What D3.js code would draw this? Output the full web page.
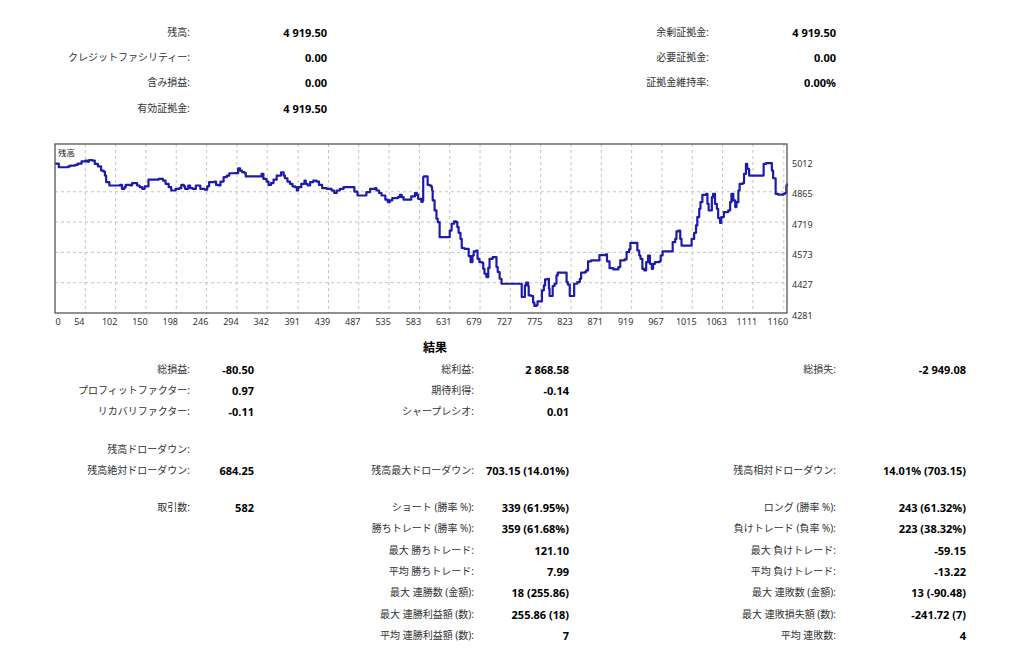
<!DOCTYPE html>
<html><head><meta charset="utf-8">
<script src="https://cdn.jsdelivr.net/npm/d3@7"></script>
<style>
html,body{margin:0;padding:0;background:#fff;}
svg text{font-family:"Noto Sans","Noto Sans CJK JP",sans-serif;}
</style></head><body>
<svg id="c" width="1024" height="657"></svg>
<script>
// ---- data ----
const dealIndex = [6,12,22,27,30,38,42,48,54,57,60,65,69,74,79,83,85,87,92,107,109,112,116,118,125,128,132,136,140,144,148,154,170,177,181,186,190,197,203,206,210,212,217,220,224,229,234,236,243,247,250,259,261,265,268,273,278,282,290,296,299,302,306,308,328,333,336,341,344,348,352,357,364,368,370,374,378,382,386,389,391,396,401,403,406,410,415,420,424,429,436,444,448,452,457,463,476,480,485,497,499,505,513,515,519,523,529,533,536,540,549,552,555,558,565,570,576,579,581,586,588,589,590,594,596,599,602,603,604,607,610,612,615,629,631,634,638,641,643,645,648,650,654,659,661,664,667,669,673,675,678,682,684,686,689,692,694,699,703,705,707,710,713,744,745,749,750,752,755,756,760,763,765,768,770,775,777,780,782,786,788,789,792,794,797,800,802,813,816,818,821,826,828,833,837,839,845,847,850,855,866,868,878,880,884,890,895,898,901,908,911,915,917,927,928,931,933,936,939,942,945,948,951,953,956,963,965,968,981,984,988,990,993,996,998,1011,1014,1018,1021,1023,1026,1028,1031,1037,1039,1041,1043,1046,1048,1051,1054,1056,1059,1061,1065,1072,1075,1077,1080,1083,1085,1088,1090,1095,1097,1100,1102,1105,1126,1128,1132,1138,1141,1143,1147,1151,1159,1162,1164,1165];
const balance = [5000,4983,4983,4987,4991,4994,5000,5011,5015,5010,5018,5015,4999,4987,4967,4962,4943,4911,4895,4895,4898,4879,4887,4898,4895,4907,4907,4895,4887,4879,4891,4923,4927,4919,4903,4887,4871,4879,4882,4898,4891,4879,4895,4882,4879,4895,4895,4879,4875,4891,4911,4914,4898,4895,4914,4935,4943,4954,4955,4978,4967,4960,4955,4939,4939,4951,4927,4914,4898,4907,4923,4943,4959,4943,4930,4914,4903,4891,4887,4871,4887,4903,4919,4903,4895,4911,4919,4914,4898,4882,4879,4871,4859,4871,4879,4887,4887,4866,4847,4847,4863,4879,4882,4871,4859,4847,4827,4815,4823,4834,4839,4850,4839,4827,4827,4843,4859,4850,4831,4816,4822,4935,4939,4939,4898,4895,4887,4871,4823,4775,4735,4719,4646,4646,4678,4711,4722,4719,4695,4667,4638,4594,4590,4590,4555,4526,4558,4578,4582,4542,4526,4523,4494,4470,4454,4498,4542,4550,4550,4502,4478,4446,4422,4422,4358,4358,4414,4427,4411,4366,4363,4331,4315,4318,4337,4337,4390,4414,4443,4446,4398,4363,4363,4411,4422,4462,4475,4475,4430,4418,4363,4363,4422,4430,4446,4475,4478,4486,4530,4534,4534,4560,4563,4530,4497,4491,4491,4502,4534,4539,4574,4587,4619,4619,4582,4558,4542,4494,4486,4526,4558,4518,4494,4518,4526,4530,4558,4578,4578,4622,4638,4674,4678,4638,4606,4606,4638,4667,4703,4743,4783,4815,4850,4855,4807,4775,4775,4839,4855,4807,4783,4738,4715,4743,4767,4775,4815,4855,4823,4791,4815,4871,4903,4907,4951,4999,4975,4943,4943,4999,5003,5003,4967,4930,4855,4851,4855,4859,4895,4905];
const xTicks = [0,54,102,150,198,246,294,342,391,439,487,535,583,631,679,727,775,823,871,919,967,1015,1063,1111,1160];
const yTicks = [4281,4427,4573,4719,4865,5012];
const yGridValues = [4427,4573,4719,4865];
const chartTitle = "残高";

const accountLabels = ["残高:","クレジットファシリティー:","含み損益:","有効証拠金:"];
const accountValues = ["4 919.50","0.00","0.00","4 919.50"];
const marginLabels = ["余剰証拠金:","必要証拠金:","証拠金維持率:"];
const marginValues = ["4 919.50","0.00","0.00%"];

const resultsTitle = "結果";
const colALabels = ["総損益:","プロフィットファクター:","リカバリファクター:","残高ドローダウン:","残高絶対ドローダウン:","取引数:","","","","","",""];
const colAValues = ["-80.50","0.97","-0.11","","684.25","582","","","","","",""];
const colBLabels = ["総利益:","期待利得:","シャープレシオ:","","残高最大ドローダウン:","ショート (勝率 %):","勝ちトレード (勝率 %):","最大 勝ちトレード:","平均 勝ちトレード:","最大 連勝数 (金額):","最大 連勝利益額 (数):","平均 連勝利益額 (数):"];
const colBValues = ["2 868.58","-0.14","0.01","","703.15 (14.01%)","339 (61.95%)","359 (61.68%)","121.10","7.99","18 (255.86)","255.86 (18)","7"];
const colCLabels = ["総損失:","","","","残高相対ドローダウン:","ロング (勝率 %):","負けトレード (負率 %):","最大 負けトレード:","平均 負けトレード:","最大 連敗数 (金額):","最大 連敗損失額 (数):","平均 連敗数:"];
const colCValues = ["-2 949.08","","","","14.01% (703.15)","243 (61.32%)","223 (38.32%)","-59.15","-13.22","13 (-90.48)","-241.72 (7)","4"];

// ---- drawing ----
const svg = d3.select("#c");
svg.append("rect").attr("width",1024).attr("height",657).attr("fill","#fff");

function label(x,y,t){
  svg.append("text").attr("x",x).attr("y",y).attr("text-anchor","end")
    .attr("dominant-baseline","central").attr("font-size",10).attr("fill","#333")
    .attr("font-family","'Noto Sans CJK JP','Noto Sans',sans-serif").text(t);
}
function value(x,y,t){
  svg.append("text").attr("x",x).attr("y",y).attr("text-anchor","end")
    .attr("dominant-baseline","central").attr("font-size",11).attr("font-weight","bold")
    .attr("fill","#000").text(t);
}

// account block
const topRows = [32,57,82,108];
accountLabels.forEach((t,i)=>{ label(190,topRows[i],t); value(327,topRows[i],accountValues[i]); });
marginLabels.forEach((t,i)=>{ label(709,topRows[i],t); value(836,topRows[i],marginValues[i]); });

// chart
const L=55, R=787, T=144, B=313;
const x = d3.scaleLinear().domain([6,1165]).range([L,R]);
const y = d3.scaleLinear().domain([4281,5095]).range([B,T]);
const g = svg.append("g");

g.selectAll("line.vg").data(xTicks.filter(v=>x(v)>L+1)).join("line")
  .attr("x1",d=>x(d)).attr("x2",d=>x(d)).attr("y1",T).attr("y2",B)
  .attr("stroke","#c4c4c4").attr("stroke-width",1).attr("stroke-dasharray","3,3");
g.selectAll("line.hg").data(yGridValues).join("line")
  .attr("x1",L).attr("x2",R).attr("y1",d=>y(d)).attr("y2",d=>y(d))
  .attr("stroke","#c4c4c4").attr("stroke-width",1).attr("stroke-dasharray","3,3");

const pts = dealIndex.map((d,i)=>[d,balance[i]]);
g.append("path").datum(pts)
  .attr("d", d3.line().curve(d3.curveStepAfter).x(d=>x(d[0])).y(d=>y(d[1])))
  .attr("fill","none").attr("stroke","#1c1cac").attr("stroke-width",2.2).attr("stroke-linejoin","round");

g.append("rect").attr("x",L).attr("y",T).attr("width",R-L).attr("height",B-T)
  .attr("fill","none").attr("stroke","#555").attr("stroke-width",1.3);

g.append("text").attr("x",L+3).attr("y",T+8).attr("font-size",8.5)
  .attr("dominant-baseline","central").attr("fill","#222")
  .attr("font-family","'Noto Sans CJK JP',sans-serif").text(chartTitle);

g.selectAll("text.xl").data(xTicks).join("text")
  .attr("x",d=>Math.max(x(d)-6, L+3)).attr("y",B+8)
  .attr("text-anchor","middle").attr("dominant-baseline","central")
  .attr("font-size",9).attr("fill","#333").text(d=>d);
g.selectAll("text.yl").data(yTicks).join("text")
  .attr("x",R+5).attr("y",d=>y(d)+2)
  .attr("dominant-baseline","central")
  .attr("font-size",9).attr("fill","#333").text(d=>d);

// results block
svg.append("text").attr("x",435).attr("y",347).attr("text-anchor","middle")
  .attr("dominant-baseline","central").attr("font-size",12).attr("font-weight","bold")
  .attr("font-family","'Noto Sans CJK JP',sans-serif").attr("fill","#000").text(resultsTitle);
const rowsY = [369,390,411,449,470,507,528,550,571,592,614,635];
rowsY.forEach((ry,i)=>{
  if(colALabels[i]) label(190,ry,colALabels[i]);
  if(colAValues[i]) value(254,ry,colAValues[i]);
  if(colBLabels[i]) label(474,ry,colBLabels[i]);
  if(colBValues[i]) value(569,ry,colBValues[i]);
  if(colCLabels[i]) label(836,ry,colCLabels[i]);
  if(colCValues[i]) value(966,ry,colCValues[i]);
});
</script>
</body></html>
